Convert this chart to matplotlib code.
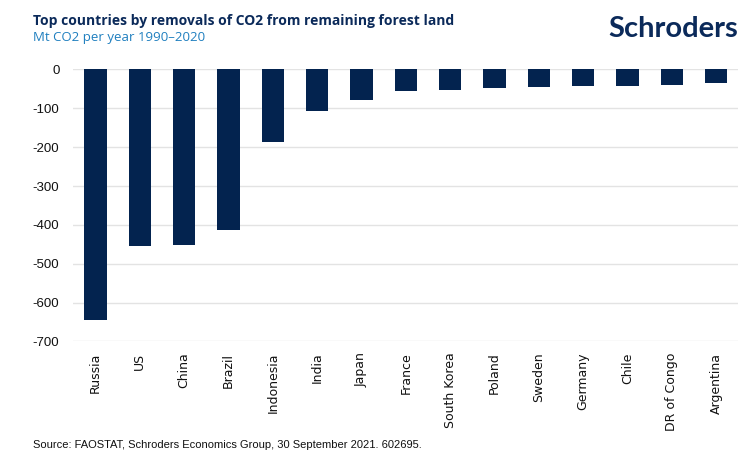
import matplotlib.pyplot as plt
import numpy as np

countries = ['Russia', 'US', 'China', 'Brazil', 'Indonesia', 'India', 'Japan', 'France',
             'South Korea', 'Poland', 'Sweden', 'Germany', 'Chile', 'DR of Congo', 'Argentina']
removals = [-645, -455, -452, -413, -186, -107, -78, -56, -53, -49, -46, -44, -42, -39, -36]
yticks = [0, -100, -200, -300, -400, -500, -600, -700]

navy = '#03234f'

fig = plt.figure(figsize=(7.48, 4.72), dpi=100)
ax = fig.add_axes([0.098, 0.2765, 0.889, 0.5765])

x = np.arange(len(countries))
ax.bar(x, removals, width=0.5, color=navy, zorder=3)

ax.set_xlim(-0.5, len(countries) - 0.5)
ax.set_ylim(-700, 0)
ax.set_yticks(yticks)
ax.set_yticklabels([str(v) for v in yticks], fontsize=9.5, family='Liberation Sans', color='#111111')
ax.set_xticks(x)
ax.set_xticklabels(countries, rotation=90, fontsize=9, color='#111111', va='top')
ax.tick_params(axis='both', length=0)
ax.tick_params(axis='y', pad=10)
ax.tick_params(axis='x', pad=8)
ax.grid(axis='y', color='#e3e3e3', linewidth=1, zorder=0)
ax.set_axisbelow(True)
for s in ax.spines.values():
    s.set_visible(False)

fig.text(0.044, 0.955, 'Top countries by removals of CO2 from remaining forest land',
         fontsize=10, fontweight='bold', color='#0b2a5a', family='Open Sans', va='center')
fig.text(0.044, 0.92, 'Mt CO2 per year 1990\u20132020',
         fontsize=9.5, color='#1f7fbf', family='Open Sans', va='center')
fig.text(0.987, 0.938, 'Schroders', fontsize=21, fontweight='bold', color='#0b2a5a',
         family='Lato', ha='right', va='center')
fig.text(0.044, 0.058, 'Source: FAOSTAT, Schroders Economics Group, 30 September 2021. 602695.',
         fontsize=8, color='#111111', family='Liberation Sans', va='center')

fig.savefig('out.png', dpi=100)
